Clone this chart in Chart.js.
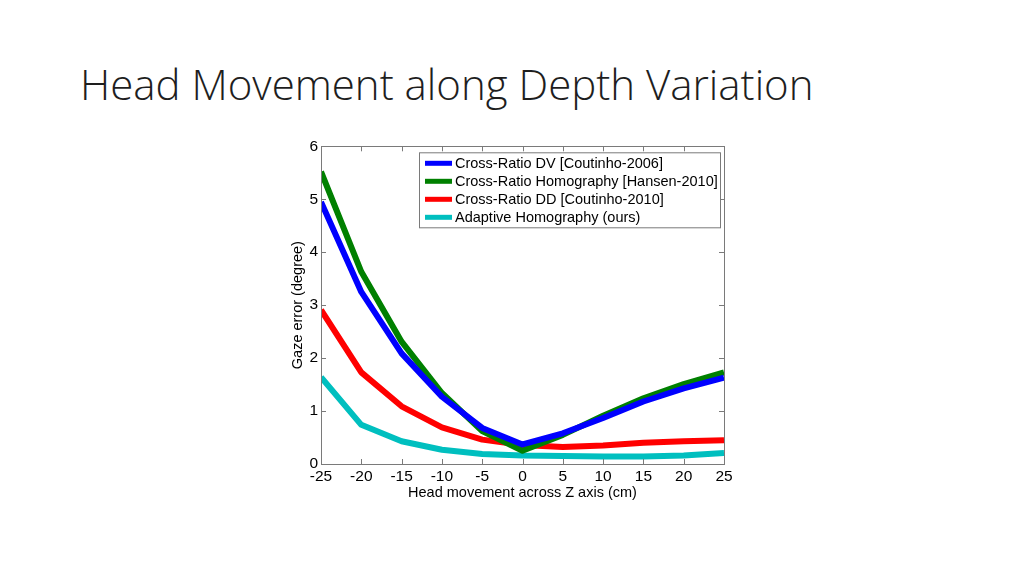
<!DOCTYPE html>
<html>
<head>
<meta charset="utf-8">
<script src="https://cdn.jsdelivr.net/npm/chart.js@4.4.0/dist/chart.umd.min.js"></script>
<style>
  html, body { margin: 0; padding: 0; background: #fff; }
  body { width: 1024px; height: 576px; position: relative; overflow: hidden; }
  #title {
    position: absolute; left: 80px; top: 56px;
    font-family: "Open Sans", sans-serif; font-weight: 300; font-size: 42px;
    color: #1e1e1e; white-space: nowrap; line-height: 56px;
  }
  #wrap { position: absolute; left: 270px; top: 134px; width: 470px; height: 378px; }
</style>
</head>
<body>
<div id="title">Head Movement along Depth Variation</div>
<div id="wrap"><canvas id="gazeChart"></canvas></div>
<script>
// --- data ---
const headZ = [-25, -20, -15, -10, -5, 0, 5, 10, 15, 20, 25];
const crDV = [4.95, 3.25, 2.09, 1.27, 0.68, 0.37, 0.58, 0.87, 1.18, 1.43, 1.63];
const crHomography = [5.52, 3.63, 2.31, 1.34, 0.62, 0.25, 0.55, 0.91, 1.24, 1.51, 1.73];
const crDD = [2.91, 1.73, 1.09, 0.69, 0.46, 0.36, 0.32, 0.35, 0.40, 0.43, 0.45];
const adaptiveH = [1.64, 0.74, 0.43, 0.27, 0.19, 0.16, 0.15, 0.14, 0.14, 0.16, 0.21];
const seriesNames = [
  'Cross-Ratio DV [Coutinho-2006]',
  'Cross-Ratio Homography [Hansen-2010]',
  'Cross-Ratio DD [Coutinho-2010]',
  'Adaptive Homography (ours)'
];
const seriesColors = ['#0000ff', '#008000', '#ff0000', '#00bfbf'];

const FONT = '"Liberation Sans", Arial, sans-serif';

function toPoints(vals) {
  return vals.map((v, i) => ({ x: headZ[i], y: v }));
}

// MATLAB style box with inward ticks + legend inside the axes
const boxPlugin = {
  id: 'matlabBox',
  afterDatasetsDraw(chart) {
    const { ctx, chartArea: a, scales } = chart;
    ctx.save();
    ctx.strokeStyle = '#7a7a7a';
    ctx.lineWidth = 1;
    ctx.beginPath();
    scales.x.ticks.forEach(t => {
      const px = Math.round(scales.x.getPixelForValue(t.value)) + 0.5;
      ctx.moveTo(px, a.bottom); ctx.lineTo(px, a.bottom - 5);
      ctx.moveTo(px, a.top); ctx.lineTo(px, a.top + 5);
    });
    scales.y.ticks.forEach(t => {
      const py = Math.round(scales.y.getPixelForValue(t.value)) + 0.5;
      ctx.moveTo(a.left, py); ctx.lineTo(a.left + 5, py);
      ctx.moveTo(a.right, py); ctx.lineTo(a.right - 5, py);
    });
    ctx.stroke();
    ctx.strokeRect(Math.round(a.left) + 0.5, Math.round(a.top) + 0.5,
      Math.round(a.right - a.left), Math.round(a.bottom - a.top));

    const lx = a.left + 98, ly = a.top + 6, lw = 301, lh = 75;
    ctx.fillStyle = '#fff';
    ctx.fillRect(lx, ly, lw, lh);
    ctx.strokeStyle = '#7a7a7a';
    ctx.strokeRect(lx + 0.5, ly + 0.5, lw, lh);
    ctx.font = '14.5px ' + FONT;
    ctx.textBaseline = 'middle';
    ctx.lineWidth = 5;
    seriesNames.forEach((name, i) => {
      const y = ly + 11 + i * 18;
      ctx.strokeStyle = seriesColors[i];
      ctx.beginPath();
      ctx.moveTo(lx + 6, y); ctx.lineTo(lx + 33, y);
      ctx.stroke();
      ctx.fillStyle = '#000';
      ctx.fillText(name, lx + 36, y + 1);
    });
    ctx.restore();
  }
};

const allSeries = [crDV, crHomography, crDD, adaptiveH];

new Chart(document.getElementById('gazeChart'), {
  type: 'line',
  data: {
    datasets: allSeries.map((vals, i) => ({
      label: seriesNames[i],
      data: toPoints(vals),
      borderColor: seriesColors[i],
      backgroundColor: seriesColors[i],
      borderWidth: 6,
      pointRadius: 0,
      tension: 0,
      fill: false,
      borderJoinStyle: 'round'
    }))
  },
  options: {
    responsive: true,
    maintainAspectRatio: false,
    animation: false,
    layout: { padding: { left: 19, top: 10, right: 16, bottom: 10 } },
    plugins: {
      legend: { display: false },
      tooltip: { enabled: false }
    },
    scales: {
      x: {
        type: 'linear',
        min: -25, max: 25,
        afterFit(scale) { scale.height = 38; },
        ticks: { stepSize: 5, color: '#000', font: { family: FONT, size: 15.5 }, padding: 3, maxRotation: 0 },
        grid: { display: false, drawTicks: false, tickLength: 0 },
        border: { display: false },
        title: { display: true, text: 'Head movement across Z axis (cm)', color: '#000', font: { family: FONT, size: 14.5 }, padding: 0 }
      },
      y: {
        min: 0, max: 6,
        afterFit(scale) { scale.width = 32; },
        ticks: { stepSize: 1, color: '#000', font: { family: FONT, size: 15.5 }, padding: 3 },
        grid: { display: false, drawTicks: false, tickLength: 0 },
        border: { display: false },
        title: { display: true, text: 'Gaze error (degree)', color: '#000', font: { family: FONT, size: 14.5 }, padding: 0 }
      }
    }
  },
  plugins: [boxPlugin]
});
</script>
</body>
</html>
